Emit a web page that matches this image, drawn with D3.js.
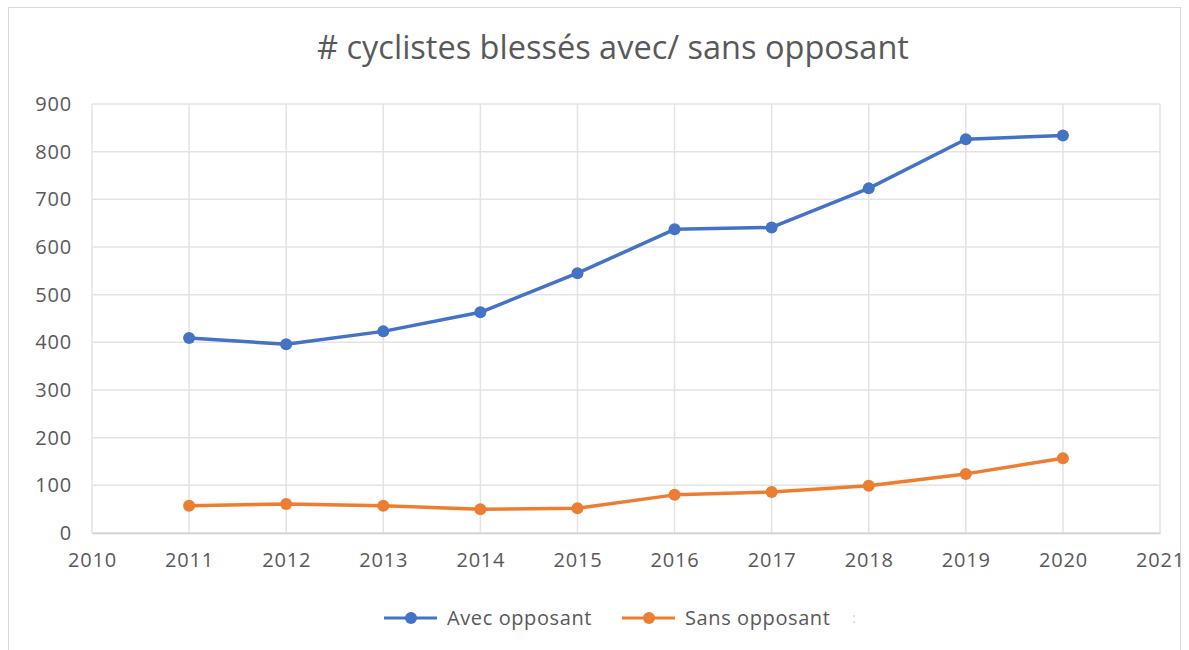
<!DOCTYPE html>
<html>
<head>
<meta charset="utf-8">
<script src="https://cdn.jsdelivr.net/npm/d3@7"></script>
<style>
  body { margin: 0; background: #fff; }
  svg { display: block; font-family: "Open Sans", Lato, sans-serif; }
</style>
</head>
<body>
<div id="chart"></div>
<script>
const years = [2011, 2012, 2013, 2014, 2015, 2016, 2017, 2018, 2019, 2020]
const avecOpposant = [409, 396, 423, 463, 545, 637, 641, 723, 826, 834]
const sansOpposant = [57, 61, 57, 50, 52, 80, 86, 99, 124, 157]
const xTicks = d3.range(2010, 2022)
const yTicks = d3.range(0, 1000, 100)

const width = 1189, height = 650
const margin = { top: 104, right: 29, bottom: 117, left: 92 }
const font = '"Open Sans", Lato, sans-serif'

const svg = d3.select('#chart').append('svg')
    .attr('width', width)
    .attr('height', height)

// outer chart frame
svg.append('rect')
    .attr('x', 8.5).attr('y', 7.5)
    .attr('width', 1172).attr('height', 660)
    .attr('fill', 'none').attr('stroke', '#d9d9d9')

const x = d3.scaleLinear()
    .domain([2010, 2021])
    .range([margin.left, width - margin.right])

const y = d3.scaleLinear()
    .domain([0, 900])
    .range([height - margin.bottom, margin.top])

// grid
svg.append('g')
    .selectAll('line')
    .data(yTicks)
    .join('line')
    .attr('x1', x(2010)).attr('x2', x(2021))
    .attr('y1', d => y(d)).attr('y2', d => y(d))
    .attr('stroke', '#e3e3e3').attr('stroke-width', 1.5)

svg.append('g')
    .selectAll('line')
    .data(xTicks)
    .join('line')
    .attr('x1', d => x(d)).attr('x2', d => x(d))
    .attr('y1', y(0)).attr('y2', y(900))
    .attr('stroke', '#e3e3e3').attr('stroke-width', 1.5)

// axes (labels only)
const xAxis = svg.append('g')
    .attr('transform', `translate(0,${y(0)})`)
    .call(d3.axisBottom(x).tickValues(xTicks).tickFormat(d3.format('d')).tickSize(0).tickPadding(20))
xAxis.select('.domain').attr('stroke', '#d0d0d0').attr('stroke-width', 1.5)

const yAxis = svg.append('g')
    .attr('transform', `translate(${margin.left},0)`)
    .call(d3.axisLeft(y).tickValues(yTicks).tickSize(0).tickPadding(20))
yAxis.select('.domain').remove()

svg.selectAll('.tick text')
    .attr('fill', '#595959')
    .attr('font-size', 20)
    .attr('letter-spacing', 0.8)
    .attr('font-family', font)

// title
svg.append('text')
    .attr('x', 613).attr('y', 59)
    .attr('text-anchor', 'middle')
    .attr('fill', '#595959')
    .attr('font-size', 32.5)
    .text('# cyclistes blessés avec/ sans opposant')

const series = [
    { name: 'Avec opposant', values: avecOpposant, color: '#4472C4' },
    { name: 'Sans opposant', values: sansOpposant, color: '#ED7D31' }
]

const line = d3.line()
    .x((d, i) => x(years[i]))
    .y(d => y(d))

series.forEach(s => {
    svg.append('path')
        .datum(s.values)
        .attr('d', line)
        .attr('fill', 'none')
        .attr('stroke', s.color)
        .attr('stroke-width', 3.5)
        .attr('stroke-linejoin', 'round')

    svg.append('g')
        .selectAll('circle')
        .data(s.values)
        .join('circle')
        .attr('cx', (d, i) => x(years[i]))
        .attr('cy', d => y(d))
        .attr('r', 6)
        .attr('fill', s.color)
})

// legend
const legendX = [384, 622]
const legend = svg.append('g')
    .selectAll('g')
    .data(series)
    .join('g')
    .attr('transform', (d, i) => `translate(${legendX[i]},618)`)

legend.append('line')
    .attr('x1', 0).attr('x2', 53)
    .attr('stroke', d => d.color).attr('stroke-width', 3)
legend.append('circle')
    .attr('cx', 27).attr('r', 6)
    .attr('fill', d => d.color)
legend.append('text')
    .attr('x', 63).attr('dy', '0.35em')
    .attr('fill', '#595959')
    .attr('font-size', 20)
    .attr('letter-spacing', 0.6)
    .attr('font-family', font)
    .text(d => d.name)

// stray separator mark after the legend, as in the source
svg.append('text')
    .attr('x', 852).attr('y', 618).attr('dy', '0.35em')
    .attr('fill', '#d8d8d8')
    .attr('font-size', 15)
    .text(':')
</script>
</body>
</html>
